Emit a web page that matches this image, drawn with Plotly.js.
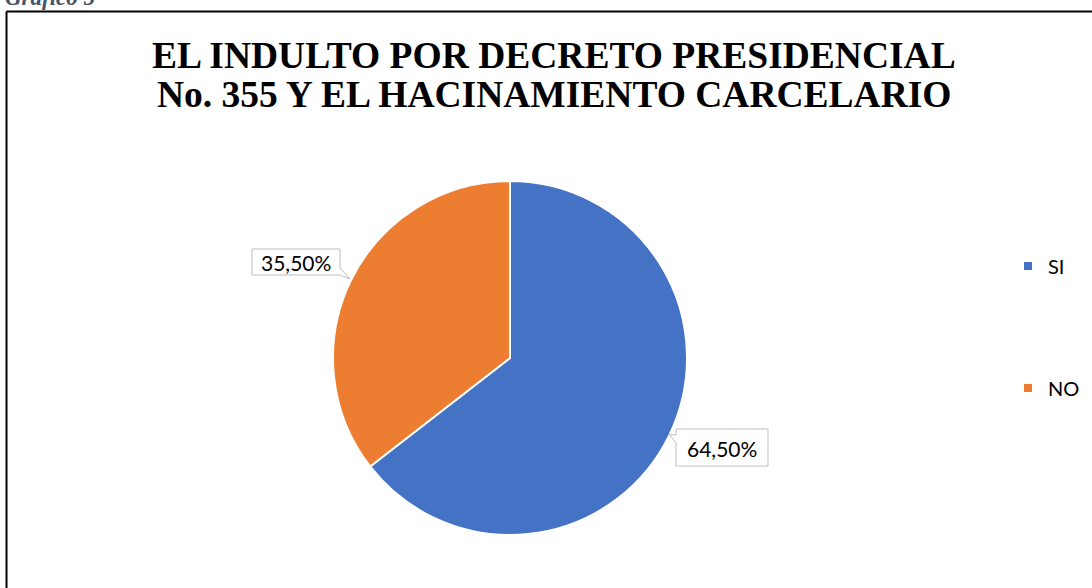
<!DOCTYPE html>
<html><head><meta charset="utf-8">
<script src="https://cdn.plot.ly/plotly-3.0.1.min.js"></script>
<style>html,body{margin:0;padding:0;background:#fff;overflow:hidden}#chart{width:1092px;height:588px}</style>
</head><body><div id="chart"></div>
<script>
const categories = ['SI', 'NO'];
const values = [64.5, 35.5];
const colors = ['#4472C4', '#ED7D31'];
const titleLines = ['EL INDULTO POR DECRETO PRESIDENCIAL', 'No. 355 Y EL HACINAMIENTO CARCELARIO'];
const caption = 'Gráfico 5';

const W = 1092, H = 588;
const px = x => x / W, py = y => 1 - y / H;
const pathFrom = pts => 'M' + pts.map(p => px(p[0]) + ',' + py(p[1])).join('L') + 'Z';
const fmt = v => v.toFixed(2).replace('.', ',') + '%';

// callout boxes (layout only)
const callouts = [
  {pts: [[676,429],[768,429],[768,466],[676,466],[676,443],[669,434],[676,435]], cx: 722, cy: 448},
  {pts: [[252,249],[340,249],[340,268],[350,279],[340,275],[252,275]], cx: 296, cy: 262.5}
];

const data = [{
  type: 'pie',
  labels: categories,
  values: values,
  marker: {colors: colors, line: {color: '#ffffff', width: 2}},
  sort: false,
  direction: 'clockwise',
  rotation: 0,
  textinfo: 'none',
  hoverinfo: 'label+percent',
  showlegend: false,
  domain: {x: [px(333), px(687)], y: [py(535), py(181)]}
}];
categories.forEach((c, i) => {
  data.push({
    type: 'scatter', mode: 'markers', x: [0], y: [0], name: c,
    legendgroup: c, marker: {symbol: 'square', size: 8, color: colors[i]},
    hoverinfo: 'skip', showlegend: true
  });
});

const shapes = [
  {type: 'line', xref: 'paper', yref: 'paper', x0: px(6.5), x1: px(1100), y0: py(11.5), y1: py(11.5), line: {color: '#000', width: 2}},
  {type: 'line', xref: 'paper', yref: 'paper', x0: px(6.5), x1: px(6.5), y0: py(11.5), y1: py(600), line: {color: '#000', width: 2}}
];
callouts.forEach(c => shapes.push({type: 'path', xref: 'paper', yref: 'paper', path: pathFrom(c.pts), fillcolor: '#ffffff', line: {color: '#BFBFBF', width: 1}, layer: 'above'}));

const annotations = [
  {text: '<b>' + titleLines[0] + '</b>', x: px(554), y: py(55), xref: 'paper', yref: 'paper', xanchor: 'center', yanchor: 'middle', showarrow: false, font: {family: 'Liberation Serif', size: 37.5, color: '#000'}},
  {text: '<b>' + titleLines[1] + '</b>', x: px(554), y: py(94), xref: 'paper', yref: 'paper', xanchor: 'center', yanchor: 'middle', showarrow: false, font: {family: 'Liberation Serif', size: 37.5, color: '#000'}},
  {text: '<b><i>' + caption + '</i></b>', x: px(3), y: py(-3), xref: 'paper', yref: 'paper', xanchor: 'left', yanchor: 'middle', showarrow: false, font: {family: 'Liberation Serif', size: 23, color: '#44546A'}}
];
callouts.forEach((c, i) => annotations.push({text: fmt(values[i]), x: px(c.cx), y: py(c.cy), xref: 'paper', yref: 'paper', xanchor: 'center', yanchor: 'middle', showarrow: false, font: {family: 'Lato', size: 21, color: '#000'}}));

const layout = {
  width: W, height: H,
  margin: {l: 0, r: 0, t: 0, b: 0},
  paper_bgcolor: '#ffffff', plot_bgcolor: '#ffffff',
  xaxis: {visible: false, range: [1, 2], fixedrange: true},
  yaxis: {visible: false, range: [1, 2], fixedrange: true},
  showlegend: true,
  legend: {x: px(1008), y: py(327), xanchor: 'left', yanchor: 'middle', tracegroupgap: 93, font: {family: 'Lato', size: 20, color: '#000'}, bgcolor: 'rgba(0,0,0,0)'},
  shapes: shapes,
  annotations: annotations
};

Plotly.newPlot('chart', data, layout, {displayModeBar: false, staticPlot: true});
</script>
</body></html>
